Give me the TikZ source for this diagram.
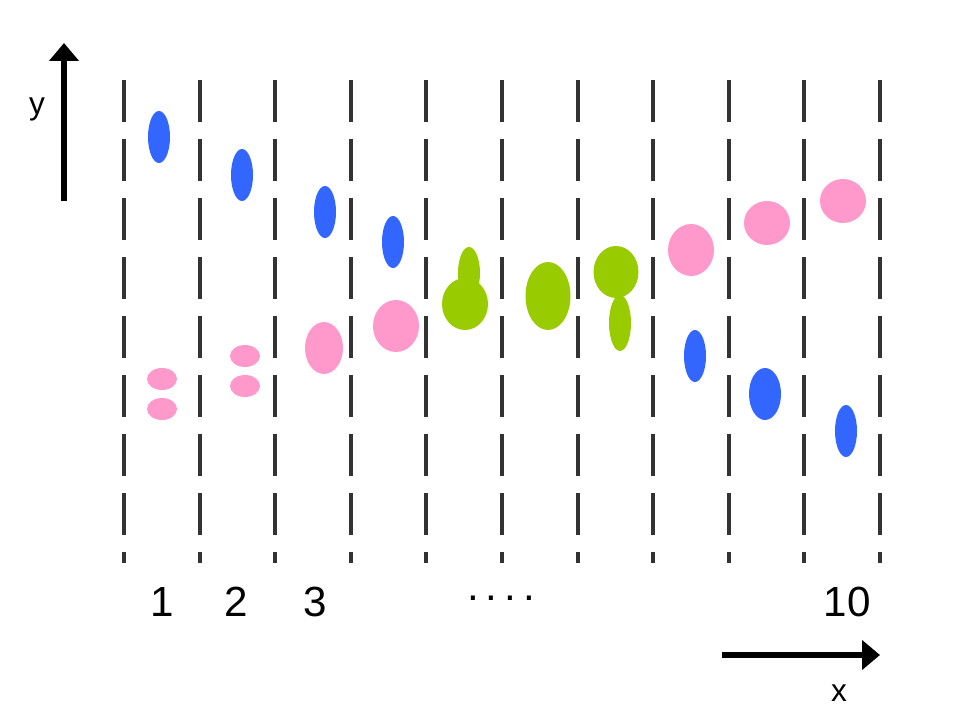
\documentclass[tikz,border=0pt]{standalone}
\usepackage{fontspec}
\setmainfont{Liberation Sans}
\usetikzlibrary{arrows.meta,positioning}

\definecolor{blobblue}{HTML}{3366FF}
\definecolor{blobpink}{HTML}{FF99CC}
\definecolor{blobgreen}{HTML}{99CC00}
\definecolor{gridgray}{HTML}{333333}

\begin{document}
\begin{tikzpicture}[x=0.02cm,y=-0.02cm,
    gridline/.style={gridgray,line width=0.08cm,dash pattern=on 0.84cm off 0.34cm},
    axisarrow/.style={line width=0.13cm,-{Triangle[length=0.36cm,width=0.58cm]}},
    blueblob/.style={fill=blobblue},
    pinkblob/.style={fill=blobpink},
    greenblob/.style={fill=blobgreen},
    numlabel/.style={font=\fontsize{24}{28}\selectfont},
    axislabel/.style={font=\fontsize{18}{22}\selectfont}]
    \useasboundingbox (0,0) rectangle (960,720);
    % dashed columns
    \foreach \i in {0,...,10}
        \draw[gridline] ({124+75.6*\i},80) -- ({124+75.6*\i},563);
    % axes
    \coordinate (ybot) at (64,201);
    \coordinate (ytop) at (64,43);
    \coordinate (xleft) at (722,655);
    \coordinate (xright) at (880,655);
    \draw[axisarrow] (ybot) -- (ytop);
    \draw[axisarrow] (xleft) -- (xright);
    \node[axislabel] (ylabel) at (37,109) {y};
    \node[axislabel] (xlabel) at (839,693) {x};
    % column numbers
    \node[numlabel] (n1) at (162,602) {1};
    \node[numlabel] (n2) at (236,602) {2};
    \node[numlabel] (n3) at (315,602) {3};
    \node[numlabel,anchor=base] (ndots) at (501,600) {.\,.\,.\,.};
    \node[numlabel] (n10) at (847,602) {10};
    % blue blobs
    \fill[blueblob] (159,137) ellipse [x radius=11, y radius=26];
    \fill[blueblob] (242,175) ellipse [x radius=11, y radius=26];
    \fill[blueblob] (325,212) ellipse [x radius=11, y radius=26];
    \fill[blueblob] (393,242) ellipse [x radius=11, y radius=26];
    \fill[blueblob] (695,356) ellipse [x radius=11, y radius=26];
    \fill[blueblob] (765,394) ellipse [x radius=16, y radius=26];
    \fill[blueblob] (846,431) ellipse [x radius=11, y radius=26];
    % pink blobs
    \fill[pinkblob] (162,379) ellipse [x radius=15, y radius=11];
    \fill[pinkblob] (162,409) ellipse [x radius=15, y radius=11];
    \fill[pinkblob] (245,356) ellipse [x radius=15, y radius=11];
    \fill[pinkblob] (245,386) ellipse [x radius=15, y radius=11];
    \fill[pinkblob] (324,348) ellipse [x radius=19, y radius=26];
    \fill[pinkblob] (396,326) ellipse [x radius=23, y radius=26];
    \fill[pinkblob] (691,250) ellipse [x radius=23, y radius=26];
    \fill[pinkblob] (767,223) ellipse [x radius=23, y radius=22];
    \fill[pinkblob] (843,201) ellipse [x radius=23, y radius=22];
    % green blobs
    \fill[greenblob] (469,273) ellipse [x radius=11, y radius=26];
    \fill[greenblob] (465,304) ellipse [x radius=23, y radius=26];
    \fill[greenblob] (548,296) ellipse [x radius=22.5, y radius=34];
    \fill[greenblob] (616,272) ellipse [x radius=22.5, y radius=26];
    \fill[greenblob] (620,323) ellipse [x radius=11, y radius=28];
\end{tikzpicture}
\end{document}
